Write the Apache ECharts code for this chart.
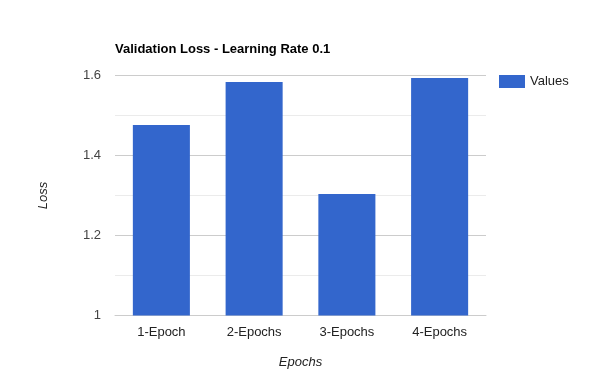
<!DOCTYPE html>
<html><head><meta charset="utf-8">
<script src="https://cdn.jsdelivr.net/npm/echarts@6/dist/echarts.min.js"></script>
<style>html,body{margin:0;padding:0;background:#fff}#c{width:600px;height:390px}</style>
</head><body><div id="c"></div>
<script>
const categories = ['1-Epoch', '2-Epochs', '3-Epochs', '4-Epochs'];
const values = [1.476, 1.584, 1.304, 1.594];
const seriesName = 'Values';
const chartTitle = 'Validation Loss - Learning Rate 0.1';
const xName = 'Epochs';
const yName = 'Loss';

const FONT = 'Arial, "Liberation Sans", sans-serif';
const chart = echarts.init(document.getElementById('c'), null, {renderer: 'canvas'});
chart.setOption({
  animation: false,
  textStyle: {fontFamily: FONT},
  title: {text: chartTitle, left: 110, top: 38,
    textStyle: {fontFamily: FONT, fontSize: 13, fontWeight: 'bold', color: '#000'}},
  legend: {data: [seriesName], left: 494, top: 70, itemWidth: 26, itemHeight: 13, itemGap: 5,
    icon: 'rect', textStyle: {fontFamily: FONT, fontSize: 13, color: '#222'}},
  grid: {left: 115, right: 114, top: 75.5, bottom: 74.5},
  xAxis: {type: 'category', data: categories, name: xName, nameLocation: 'middle', nameGap: 40,
    nameTextStyle: {fontFamily: FONT, fontSize: 13, fontStyle: 'italic', color: '#222'},
    axisLine: {show: true, lineStyle: {color: '#ccc'}}, axisTick: {show: false},
    axisLabel: {fontFamily: FONT, fontSize: 13, color: '#222', margin: 10}},
  yAxis: {type: 'value', min: 1, max: 1.6, interval: 0.2, name: yName, nameLocation: 'middle', nameGap: 65,
    nameTextStyle: {fontFamily: FONT, fontSize: 13, fontStyle: 'italic', color: '#222'},
    axisLine: {show: false}, axisTick: {show: false},
    axisLabel: {fontFamily: FONT, fontSize: 13, color: '#444', margin: 14,
      formatter: v => (Math.abs(v - 1) < 1e-9 ? '1' : v.toFixed(1))},
    splitLine: {lineStyle: {color: '#ccc'}},
    minorTick: {show: false, splitNumber: 2},
    minorSplitLine: {show: true, lineStyle: {color: '#ebebeb'}}},
  series: [{name: seriesName, type: 'bar', data: values, barWidth: '61.5%',
    itemStyle: {color: '#3366cc'}}]
});
</script></body></html>
